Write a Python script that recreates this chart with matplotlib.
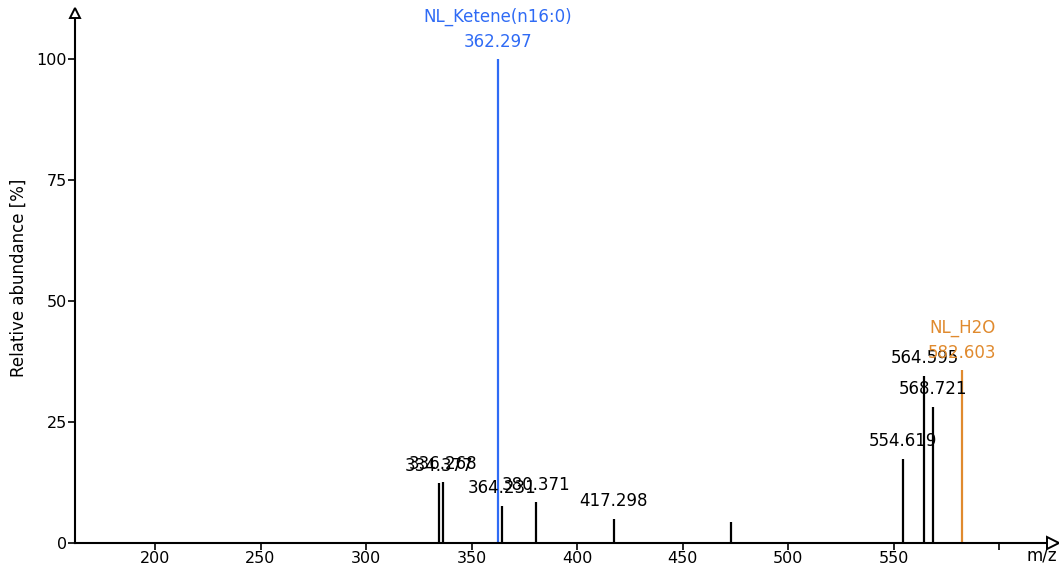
import matplotlib.pyplot as plt

# peaks: m/z and relative abundance (%)
mz = [334.377, 336.268, 362.297, 364.231, 380.371, 417.298, 472.8,
      554.619, 564.595, 568.721, 582.603]
intens = [12.4, 12.7, 100.0, 7.7, 8.4, 5.0, 4.4, 17.4, 34.6, 28.2, 35.7]
labels = ["334.377", "336.268", "NL_Ketene(n16:0)\n362.297", "364.231",
          "380.371", "417.298", "", "554.619", "564.595", "568.721",
          "NL_H2O\n582.603"]
colors = ["black", "black", "#2f6bf5", "black", "black", "black", "black",
          "black", "black", "black", "#e08a2e"]

xticks = [200, 250, 300, 350, 400, 450, 500, 550, 600]
xticklabels = ["200", "250", "300", "350", "400", "450", "500", "550", ""]
yticks = [0, 25, 50, 75, 100]

fig = plt.figure(figsize=(10.59, 5.68), dpi=100)
ax = fig.add_axes([75 / 1059, 25 / 568, (1053 - 75) / 1059, (545 - 15) / 568])

xmin, xmax = 162.1, 625.5
ymin, ymax = 0, 109.5
ax.set_xlim(xmin, xmax)
ax.set_ylim(ymin, ymax)

for x, y, lab, c in zip(mz, intens, labels, colors):
    ax.vlines(x, 0, y, color=c, lw=1.6)
    if lab:
        ax.annotate(lab, (x, y), xytext=(0, 6), textcoords="offset points",
                    ha="center", va="bottom", fontsize=12, color=c,
                    linespacing=1.5)

for s in ["top", "right"]:
    ax.spines[s].set_visible(False)
for s in ["left", "bottom"]:
    ax.spines[s].set_linewidth(1.5)
    ax.spines[s].set_zorder(5)

# open arrow heads on the axes
ax.plot(xmax, 0, marker=">", ms=8, mfc="white", mec="black", mew=1.4,
        clip_on=False, zorder=6)
ax.plot(xmin, ymax, marker="^", ms=7, mfc="white", mec="black", mew=1.4,
        clip_on=False, zorder=6)

ax.set_xticks(xticks)
ax.set_xticklabels(xticklabels)
ax.set_yticks(yticks)
ax.tick_params(labelsize=11.5, width=1.2, length=5, pad=1)

ax.set_ylabel("Relative abundance [%]", fontsize=12, labelpad=6)
fig.text(1042 / 1059, 1 - 546 / 568, "m/z", ha="center", va="top",
         fontsize=12)

fig.savefig("out.png", dpi=100)
